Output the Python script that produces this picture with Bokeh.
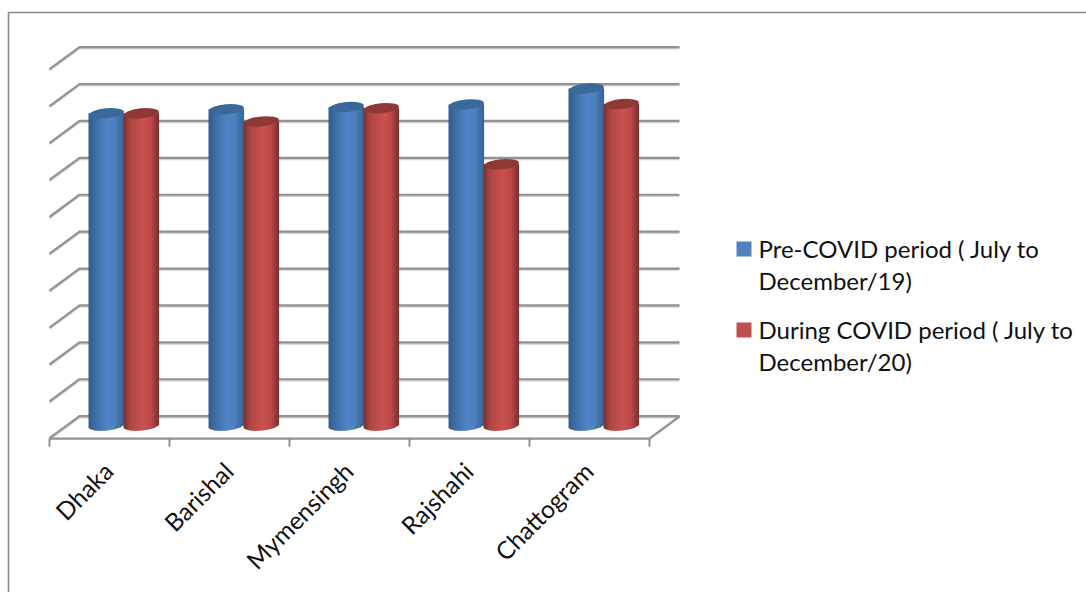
import numpy as np
from bokeh.core.properties import value
from bokeh.embed import file_html
from bokeh.models import Range1d
from bokeh.plotting import figure
from bokeh.resources import INLINE

# Regional figures for the two periods
regions = ["Dhaka", "Barishal", "Mymensingh", "Rajshahi", "Chattogram"]
pre_covid = [84.6, 85.7, 86.3, 87.0, 91.3]
during_covid = [84.6, 82.4, 86.0, 70.8, 87.1]
levels = [0, 10, 20, 30, 40, 50, 60, 70, 80, 90, 100]
legend_labels = ["Pre-COVID period ( July to\nDecember/19)",
                 "During COVID period ( July to\nDecember/20)"]

WIDTH, HEIGHT = 1086, 592
UNIT_Y = 3.69      # pixels per value unit
UNIT_X = 120.0     # pixels per category
ORIGIN_X, ORIGIN_Y = 124.0, 425.0


def xd(px):
    return (px - ORIGIN_X) / UNIT_X


def yd(px):
    return (ORIGIN_Y - px) / UNIT_Y


p = figure(width=WIDTH, height=HEIGHT, output_backend="svg", toolbar_location=None,
           x_range=Range1d(xd(0), xd(WIDTH)), y_range=Range1d(yd(HEIGHT), yd(0)),
           min_border=0, outline_line_color=None, background_fill_color="white",
           border_fill_color="white")
p.axis.visible = False
p.grid.visible = False

GRID = "#929292"
SHADE = "#d2d2d2"

# Outer frame of the chart area
p.line([xd(8), xd(8), xd(WIDTH)], [yd(HEIGHT), yd(12), yd(12)], line_color="#8a8a8a", line_width=1.6)

# Back wall and left wall gridlines, offset to give the box its depth
back, front = 2.44, -3.55
xb0, xb1 = -0.375, 4.625
xf0, xf1 = -0.625, 4.375
for lv in levels:
    p.line([xf0, xb0, xb1], [lv + front - 0.2, lv + back - 0.2, lv + back - 0.2],
           line_color=SHADE, line_width=2.4)
for lv in levels:
    p.line([xf0, xb0, xb1], [lv + front + 0.1, lv + back + 0.1, lv + back + 0.1],
           line_color=GRID, line_width=2.2)

# Floor edges and category ticks
p.line([xf0, xf1, xb1], [front, front, back], line_color=GRID, line_width=2.4)
for i in range(len(regions) + 1):
    p.line([xf0 + i, xf0 + i], [front, front - 2.2], line_color=GRID, line_width=2)

# Horizontal shading across a cylinder: position (0..1) to colour
BLUE_STOPS = [(0.0, (52, 94, 140)), (0.18, (62, 110, 165)), (0.5, (80, 132, 198)),
              (0.72, (78, 128, 190)), (1.0, (56, 100, 150))]
RED_STOPS = [(0.0, (118, 48, 46)), (0.15, (170, 68, 66)), (0.55, (203, 82, 80)),
             (0.78, (185, 72, 70)), (1.0, (118, 48, 46))]
DIAM = 35.0      # cylinder diameter in pixels
CAP_H = 5.0      # ellipse half-height in pixels
TILT = 1.6       # pixels the right rim rises above the centre
NUDGE = -1.0 / UNIT_X


def shade(stops, t):
    pos = [s[0] for s in stops]
    rgb = [np.interp(t, pos, [s[1][c] for s in stops]) for c in range(3)]
    return "#%02x%02x%02x" % tuple(int(round(c)) for c in rgb)


def cylinder(center, val, stops, cap):
    n = int(DIAM)
    edges = np.arange(n) / n
    left = center + (edges - 0.5) * DIAM / UNIT_X
    u = (edges + 0.5 / n) * 2 - 1
    drop = (CAP_H * np.sqrt(1 - u ** 2) - TILT * u) / UNIT_Y
    p.quad(left=left, right=left + 1.6 / UNIT_X, top=[val] * n, bottom=-drop,
           fill_color=[shade(stops, t) for t in edges], line_color=None)
    p.ellipse([center + 0.5 / UNIT_X], [val], width=DIAM, height=CAP_H * 2,
               width_units="screen", height_units="screen", angle=0.09,
               fill_color=cap, line_color=None)


half = DIAM / 2 / UNIT_X
for i in range(len(regions)):
    cylinder(i - half + NUDGE, pre_covid[i], BLUE_STOPS, "#3a6898")
    cylinder(i + half + NUDGE, during_covid[i], RED_STOPS, "#8f3936")

# Category labels, rotated and right-aligned under the ticks
p.text([xd(108) + i for i in range(5)], [yd(466)] * 5, text=regions,
       angle=np.pi / 4, text_align="right", text_baseline="middle",
       text_font=value("Lato"), text_font_size="24.5px", text_color="#111111")

# Legend
swatches = ["#4f81bd", "#c0504d"]
rows = [248.5, 329.5]
p.rect([xd(743.5)] * 2, [yd(r) for r in rows], width=15, height=15,
       width_units="screen", height_units="screen", fill_color=swatches, line_color=None)
p.text([xd(758)] * 2, [yd(r - 15) for r in rows], text=legend_labels,
       text_align="left", text_baseline="top", text_line_height=1.11,
       text_font=value("Lato"), text_font_size="24px", text_color="#111111")

open("out.html", "w").write(file_html(p, INLINE))
